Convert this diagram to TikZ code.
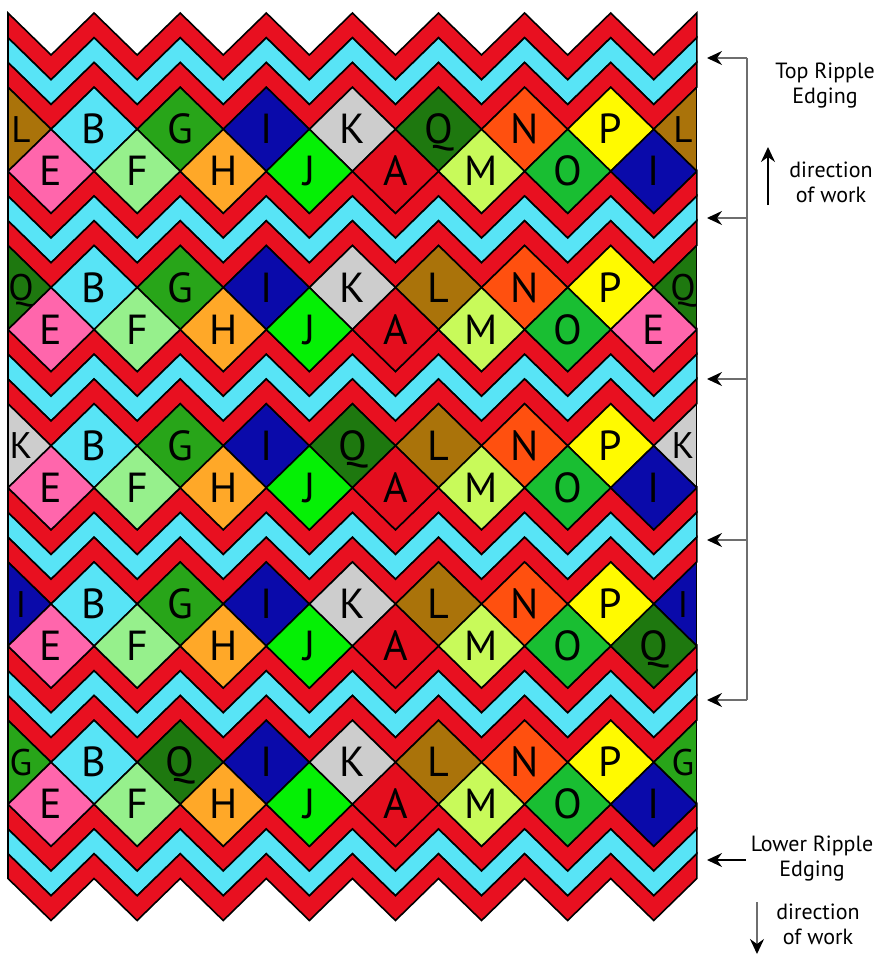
\documentclass[tikz,border=0pt]{standalone}
\usepackage{fontspec}
\setmainfont{PT Sans}
\usetikzlibrary{arrows.meta}
\definecolor{bandred}{RGB}{232,16,32}
\definecolor{bandcyan}{RGB}{88,228,246}
\definecolor{colA}{RGB}{228,14,30}
\definecolor{colB}{RGB}{88,228,246}
\definecolor{colE}{RGB}{255,102,172}
\definecolor{colF}{RGB}{150,240,140}
\definecolor{colG}{RGB}{40,165,25}
\definecolor{colH}{RGB}{255,168,40}
\definecolor{colI}{RGB}{10,10,170}
\definecolor{colJ}{RGB}{5,240,5}
\definecolor{colK}{RGB}{205,205,205}
\definecolor{colL}{RGB}{170,115,10}
\definecolor{colM}{RGB}{200,250,90}
\definecolor{colN}{RGB}{255,80,15}
\definecolor{colO}{RGB}{25,190,50}
\definecolor{colP}{RGB}{255,250,0}
\definecolor{colQ}{RGB}{30,120,15}
\definecolor{annogray}{RGB}{110,110,110}

\newcommand\zzband[3]{%
  \filldraw[band, fill=#1] (8,#2)
    \foreach \j in {1,...,16}{ -- ({8+43.05*\j},{#2+42*mod(\j,2)}) }
    -- ({8+43.05*16},{#3})
    \foreach \j in {15,...,0}{ -- ({8+43.05*\j},{#3+42*mod(\j,2)}) }
    -- cycle;}

\newcommand\dmrow[3]{%
  \pgfmathsetmacro\yt{129.25+158.25*#1}%
  \pgfmathsetmacro\yb{\yt+42}%
  \foreach \c [count=\k from 0] in {#2} {%
    \pgfmathsetmacro\xc{8+86.1*\k}%
    \filldraw[dmd,fill=col\c] ({\xc-43.05},\yt) -- (\xc,{\yt-42}) -- ({\xc+43.05},\yt) -- (\xc,{\yt+42}) -- cycle;
    \ifnum\k=0
      \node[elett] (d#1t\k) at (21,\yt) {\c};
    \else\ifnum\k=8
      \node[elett] (d#1t\k) at (683,\yt) {\c};
    \else
      \node[lett] (d#1t\k) at (\xc,\yt) {\c};
    \fi\fi
  }%
  \foreach \c [count=\k from 0] in {#3} {%
    \pgfmathsetmacro\xc{51.05+86.1*\k}%
    \filldraw[dmd,fill=col\c] ({\xc-43.05},\yb) -- (\xc,{\yb-42}) -- ({\xc+43.05},\yb) -- (\xc,{\yb+42}) -- cycle;
    \node[lett] (d#1b\k) at (\xc,\yb) {\c};
  }%
}

\begin{document}
\begin{tikzpicture}[x=1pt,y=-1pt,
  band/.style={draw=black,line width=1.6pt,line join=miter},
  dmd/.style={draw=black,line width=1.6pt,line join=miter},
  lett/.style={inner sep=0pt,font=\fontsize{42}{42}\selectfont,text height=29pt,text depth=0pt},
  elett/.style={inner sep=0pt,font=\fontsize{37}{37}\selectfont,text height=26pt,text depth=0pt},
  ann/.style={align=center,inner sep=0pt,font=\fontsize{22}{25}\selectfont},
  annline/.style={draw=annogray,line width=1.8pt},
  blkline/.style={draw=black,line width=1.8pt},
  tip/.style={-{Stealth[length=15pt,width=14pt,inset=5pt,color=black]}},
]
\useasboundingbox (0,0) rectangle (882,955);

% ripple bands
\foreach \r in {0,...,5}{
  \pgfmathsetmacro\sa{13+158.25*\r}
  \pgfmathsetmacro\sb{\sa+24.75}
  \pgfmathsetmacro\sc{\sa+49.5}
  \pgfmathsetmacro\sd{\sa+74.25}
  \zzband{bandred}{\sa}{\sb}
  \zzband{bandcyan}{\sb}{\sc}
  \zzband{bandred}{\sc}{\sd}
}

% diamond rows
\begin{scope}
  \clip (8,0) rectangle (696.8,955);
  \dmrow{0}{L,B,G,I,K,Q,N,P,L}{E,F,H,J,A,M,O,I}
  \dmrow{1}{Q,B,G,I,K,L,N,P,Q}{E,F,H,J,A,M,O,E}
  \dmrow{2}{K,B,G,I,Q,L,N,P,K}{E,F,H,J,A,M,O,I}
  \dmrow{3}{I,B,G,I,K,L,N,P,I}{E,F,H,J,A,M,O,Q}
  \dmrow{4}{G,B,Q,I,K,L,N,P,G}{E,F,H,J,A,M,O,I}
\end{scope}
\draw[line width=1.2pt] (8,13) -- (8,878.5);
\draw[line width=1.2pt] (696.8,13) -- (696.8,878.5);

% annotations
\foreach \i/\y in {1/58,2/218,3/379,4/540,5/700}{
  \coordinate (v\i) at (747,\y);
  \coordinate (a\i) at (707,\y);
}
\draw[annline] (v1) -- (v5);
\foreach \i in {1,...,5}{ \draw[annline,tip] (v\i) -- (a\i); }

\node[ann] (topedge) at (825,86) {Top Ripple\\Edging};
\node[ann] (upwork) at (831,182) {direction\\of work};
\coordinate (u0) at (768,205);
\coordinate (u1) at (768,147);
\draw[blkline,tip] (u0) -- (u1);

\node[ann] (lowedge) at (812,859) {Lower Ripple\\Edging};
\coordinate (l0) at (746,860);
\coordinate (l1) at (707,860);
\draw[blkline,tip] (l0) -- (l1);

\node[ann] (downwork) at (818,924) {direction\\of work};
\coordinate (w0) at (757,902);
\coordinate (w1) at (757,954);
\draw[annline,tip] (w0) -- (w1);
\end{tikzpicture}
\end{document}
